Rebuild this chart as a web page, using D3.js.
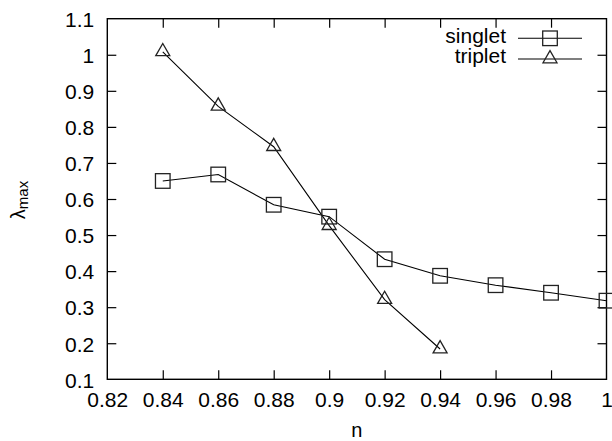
<!DOCTYPE html>
<html>
<head>
<meta charset="utf-8">
<script src="https://cdn.jsdelivr.net/npm/d3@7"></script>
<style>
  html, body { margin: 0; padding: 0; background: #fff; }
  svg { display: block; }
  text { font-family: "Liberation Sans", Arial, Helvetica, sans-serif; fill: #000; }
</style>
</head>
<body>
<svg id="chart" width="612" height="441"></svg>
<script>
// Filling parameter n and the largest eigenvalue for each pairing channel
const nValues = [0.84, 0.86, 0.88, 0.90, 0.92, 0.94, 0.96, 0.98, 1.00];
const singletValues = [0.650, 0.668, 0.584, 0.551, 0.433, 0.387, 0.361, 0.340, 0.318];
const tripletN = [0.84, 0.86, 0.88, 0.90, 0.92, 0.94];
const tripletValues = [1.008, 0.857, 0.745, 0.526, 0.321, 0.184];

const xTicks = [0.82, 0.84, 0.86, 0.88, 0.90, 0.92, 0.94, 0.96, 0.98, 1.00];
const xTickLabels = ["0.82", "0.84", "0.86", "0.88", "0.9", "0.92", "0.94", "0.96", "0.98", "1"];
const yTicks = [0.1, 0.2, 0.3, 0.4, 0.5, 0.6, 0.7, 0.8, 0.9, 1.0, 1.1];
const yTickLabels = ["0.1", "0.2", "0.3", "0.4", "0.5", "0.6", "0.7", "0.8", "0.9", "1", "1.1"];

const seriesNames = ["singlet", "triplet"];

const svg = d3.select("#chart");
const plotL = 107.3, plotR = 606.5, plotT = 18.7, plotB = 379.3;
const x = d3.scaleLinear().domain([0.82, 1.0]).range([plotL, plotR]);
const y = d3.scaleLinear().domain([0.1, 1.1]).range([plotB, plotT]);

const FONT = 20;
const STRETCH = 1.05;
const tickLen = 9;

function fmtX(d) { return xTickLabels[xTicks.indexOf(d)]; }
function fmtY(d) { return yTickLabels[yTicks.indexOf(d)]; }

// Axes: gnuplot-style inward ticks, mirrored on top and right
const gB = svg.append("g").attr("transform", `translate(0,${plotB})`)
  .call(d3.axisBottom(x).tickValues(xTicks).tickFormat(fmtX).tickSizeInner(-tickLen).tickSizeOuter(0));
const gT = svg.append("g").attr("transform", `translate(0,${plotT})`)
  .call(d3.axisTop(x).tickValues(xTicks).tickFormat("").tickSizeInner(-tickLen).tickSizeOuter(0));
const gL = svg.append("g").attr("transform", `translate(${plotL},0)`)
  .call(d3.axisLeft(y).tickValues(yTicks).tickFormat(fmtY).tickSizeInner(-tickLen).tickSizeOuter(0));
const gR = svg.append("g").attr("transform", `translate(${plotR},0)`)
  .call(d3.axisRight(y).tickValues(yTicks).tickFormat("").tickSizeInner(-tickLen).tickSizeOuter(0));

[gB, gT, gL, gR].forEach(g => {
  g.select(".domain").remove();
  g.selectAll(".tick line").attr("stroke", "#000").attr("stroke-width", 1.2);
});
// no ticks drawn on the frame corners
gB.selectAll(".tick").filter(d => d === 0.82 || d === 1.0).select("line").remove();
gT.selectAll(".tick").filter(d => d === 0.82 || d === 1.0).select("line").remove();
gL.selectAll(".tick").filter(d => d === 0.1 || d === 1.1).select("line").remove();
gR.selectAll(".tick").filter(d => d === 0.1 || d === 1.1).select("line").remove();

gB.selectAll(".tick text")
  .attr("font-size", FONT).attr("fill", "#000")
  .attr("y", null).attr("dy", null)
  .attr("transform", `translate(0,28) scale(${STRETCH},1)`);
gL.selectAll(".tick text")
  .attr("font-size", FONT).attr("fill", "#000")
  .attr("x", null).attr("dy", null)
  .attr("transform", `translate(-13,7.8) scale(${STRETCH},1)`);
[gB, gT, gL, gR].forEach(g => g.attr("font-family", null).attr("font-size", null));

// Frame
svg.append("rect")
  .attr("x", plotL).attr("y", plotT)
  .attr("width", plotR - plotL).attr("height", plotB - plotT)
  .attr("fill", "none").attr("stroke", "#000").attr("stroke-width", 1.4);

// Axis titles
svg.append("text")
  .attr("x", (plotL + plotR) / 2).attr("y", 436.5)
  .attr("text-anchor", "middle").attr("font-size", FONT)
  .text("n");

const yl = svg.append("text")
  .attr("transform", "translate(25,200) rotate(-90)")
  .attr("text-anchor", "middle").attr("font-size", FONT);
yl.append("tspan").text("λ");
yl.append("tspan").attr("font-size", 15).attr("dy", 3).text("max");

// Markers
const half = 7.3;
function square(sel) {
  sel.append("rect")
    .attr("x", -half).attr("y", -half)
    .attr("width", 2 * half).attr("height", 2 * half)
    .attr("fill", "none").attr("stroke", "#222").attr("stroke-width", 1.3);
}
const triPath = "M0,-8.4L7,3.8L-7,3.8Z";
function triangle(sel) {
  sel.append("path").attr("d", triPath)
    .attr("fill", "none").attr("stroke", "#222").attr("stroke-width", 1.3);
}

const singlet = nValues.map((n, i) => [n, singletValues[i]]);
const triplet = tripletN.map((n, i) => [n, tripletValues[i]]);
const line = d3.line().x(d => x(d[0])).y(d => y(d[1]));

svg.append("path").datum(singlet).attr("d", line)
  .attr("fill", "none").attr("stroke", "#000").attr("stroke-width", 1.1);
svg.append("path").datum(triplet).attr("d", line)
  .attr("fill", "none").attr("stroke", "#000").attr("stroke-width", 1.1);

svg.selectAll("g.sq").data(singlet).join("g").attr("class", "sq")
  .attr("transform", d => `translate(${x(d[0])},${y(d[1])})`).call(square);
svg.selectAll("g.tri").data(triplet).join("g").attr("class", "tri")
  .attr("transform", d => `translate(${x(d[0])},${y(d[1])})`).call(triangle);

// Key
const keyRows = [
  { name: seriesNames[0], ly: 38.3, mark: square },
  { name: seriesNames[1], ly: 59, mark: triangle }
];
keyRows.forEach(r => {
  svg.append("text")
    .attr("text-anchor", "end").attr("font-size", FONT)
    .attr("transform", `translate(506,${r.ly + 4.3}) scale(${STRETCH},1)`)
    .text(r.name);
  svg.append("line")
    .attr("x1", 518).attr("x2", 582).attr("y1", r.ly).attr("y2", r.ly)
    .attr("stroke", "#000").attr("stroke-width", 1.1);
  svg.append("g").attr("transform", `translate(550,${r.ly})`).call(r.mark);
});
</script>
</body>
</html>
